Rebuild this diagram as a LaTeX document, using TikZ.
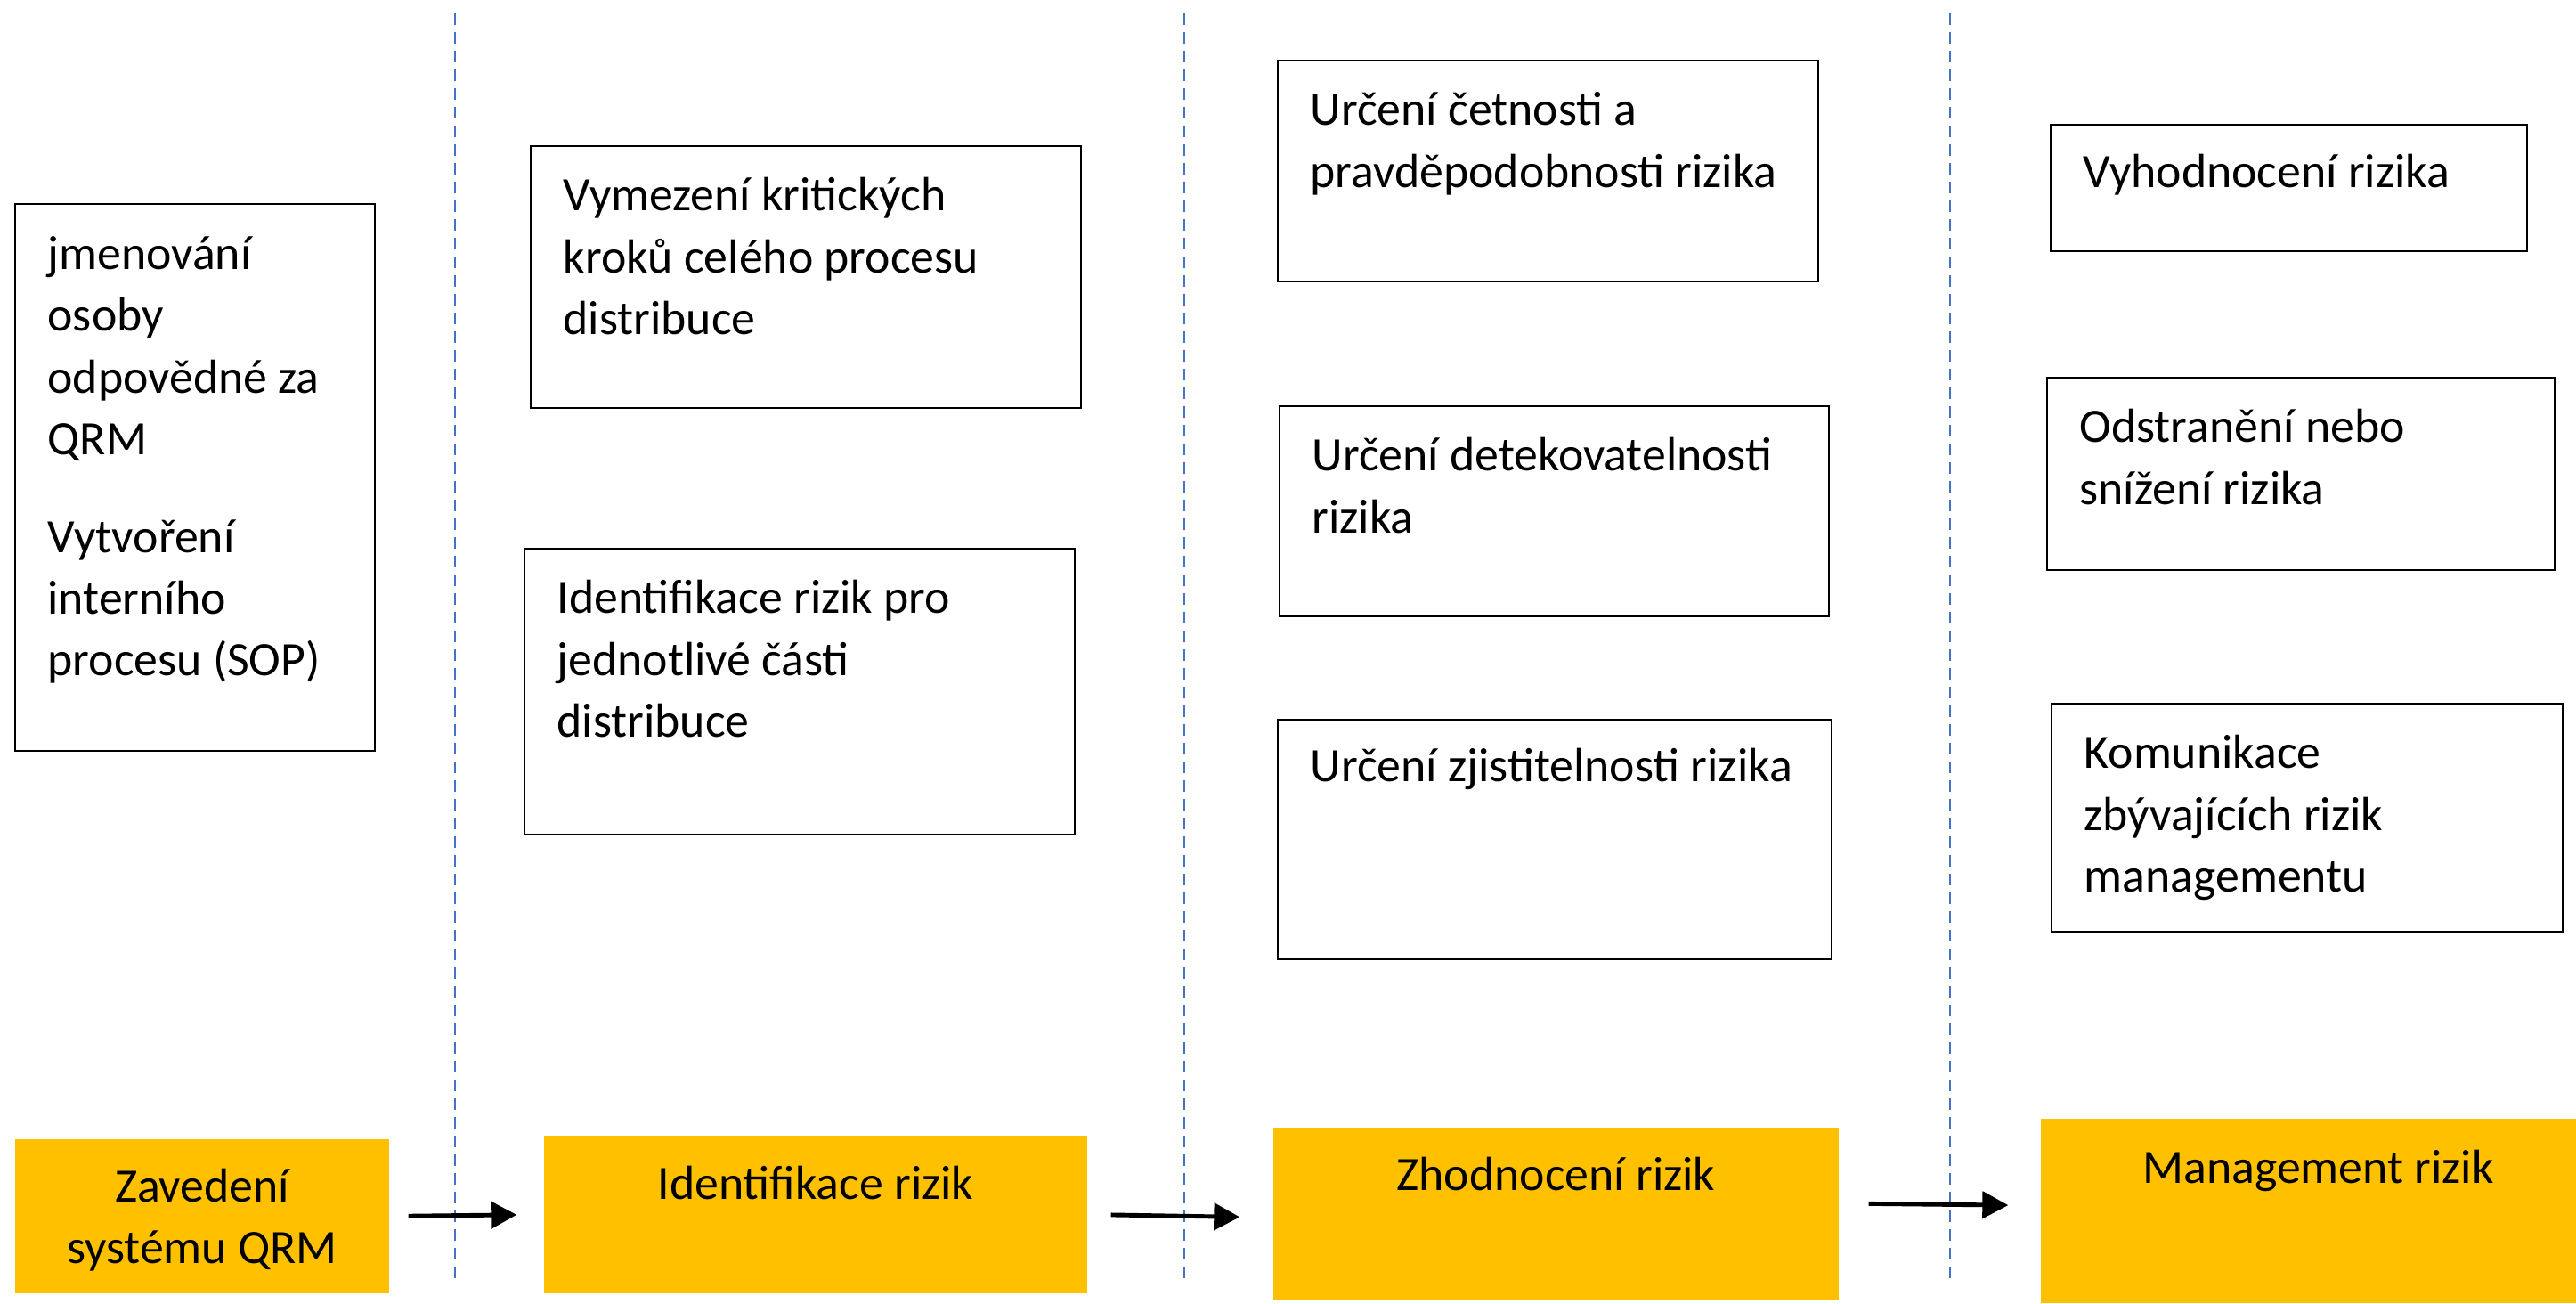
\documentclass[tikz,border=0pt]{standalone}
\usepackage{fontspec}
\setmainfont{Carlito}
\usetikzlibrary{calc,arrows.meta}
\definecolor{stepyellow}{HTML}{FFC000}
\definecolor{sepblue}{HTML}{4472C4}

\begin{document}
\begin{tikzpicture}[
    box/.style={draw,line width=0.6pt,inner sep=0pt},
    stepbox/.style={fill=stepyellow,inner sep=0pt},
    txt/.style={inner sep=0pt,align=left,font=\fontsize{15.3}{19.7}\selectfont,execute at begin node=\strut},
    flow/.style={-{Triangle[length=0.29cm,width=0.3cm]},line width=1.4pt},
    divider/.style={sepblue,line width=0.6pt,dash pattern=on 0.13cm off 0.08cm}]
    \useasboundingbox (0,0) rectangle (28.93,14.63);

    % column dividers
    \draw[divider] (5.11,14.48) -- (5.11,0.24);
    \draw[divider] (13.30,14.48) -- (13.30,0.24);
    \draw[divider] (21.90,14.48) -- (21.90,0.24);

    % first column
    \node[box,minimum width=4.04cm,minimum height=6.14cm] (qrmbox) at (2.19,9.27) {};
    \node[txt,anchor=north west] (qrmtxt) at ($(qrmbox.north west)+(0.37,-0.37)$)
      {jmenování\\ osoby\\ odpovědné za\\ QRM\\[11.5pt] Vytvoření\\ interního\\ procesu (SOP)};

    % second column
    \node[box,minimum width=6.18cm,minimum height=2.94cm] (vymez) at (9.05,11.52) {};
    \node[txt,anchor=north west] (vymeztxt) at ($(vymez.north west)+(0.37,-0.36)$)
      {Vymezení kritických\\ kroků celého procesu\\ distribuce};
    \node[box,minimum width=6.18cm,minimum height=3.21cm] (idpart) at (8.98,6.865) {};
    \node[txt,anchor=north west] (idparttxt) at ($(idpart.north west)+(0.37,-0.36)$)
      {Identifikace rizik pro\\ jednotlivé části\\ distribuce};

    % third column
    \node[box,minimum width=6.07cm,minimum height=2.48cm] (cetn) at (17.385,12.71) {};
    \node[txt,anchor=north west] (cetntxt) at ($(cetn.north west)+(0.37,-0.36)$)
      {Určení četnosti a\\ pravděpodobnosti rizika};
    \node[box,minimum width=6.17cm,minimum height=2.36cm] (detek) at (17.455,8.89) {};
    \node[txt,anchor=north west] (detektxt) at ($(detek.north west)+(0.37,-0.36)$)
      {Určení detekovatelnosti\\ rizika};
    \node[box,minimum width=6.22cm,minimum height=2.69cm] (zjist) at (17.46,5.205) {};
    \node[txt,anchor=north west] (zjisttxt) at ($(zjist.north west)+(0.37,-0.21)$)
      {Určení zjistitelnosti rizika};

    % fourth column
    \node[box,minimum width=5.35cm,minimum height=1.42cm] (vyhod) at (25.705,12.52) {};
    \node[txt,anchor=north west] (vyhodtxt) at ($(vyhod.north west)+(0.37,-0.22)$)
      {Vyhodnocení rizika};
    \node[box,minimum width=5.70cm,minimum height=2.16cm] (odstr) at (25.84,9.31) {};
    \node[txt,anchor=north west] (odstrtxt) at ($(odstr.north west)+(0.37,-0.36)$)
      {Odstranění nebo\\ snížení rizika};
    \node[box,minimum width=5.74cm,minimum height=2.56cm] (komun) at (25.91,5.45) {};
    \node[txt,anchor=north west] (komuntxt) at ($(komun.north west)+(0.37,-0.36)$)
      {Komunikace\\ zbývajících rizik\\ managementu};

    % steps
    \node[stepbox,minimum width=4.20cm,minimum height=1.73cm] (zaved) at (2.27,0.975) {};
    \node[txt,align=center] (zavedtxt) at ($(zaved.center)+(0,-0.10)$) {Zavedení\\ systému QRM};
    \node[stepbox,minimum width=6.10cm,minimum height=1.77cm] (identif) at (9.16,0.995) {};
    \node[txt,anchor=north] (identiftxt) at ($(identif.north)+(0,-0.23)$) {Identifikace rizik};
    \node[stepbox,minimum width=6.35cm,minimum height=1.94cm] (zhodn) at (17.475,1.00) {};
    \node[txt,anchor=north] (zhodntxt) at ($(zhodn.north)+(0,-0.22)$) {Zhodnocení rizik};
    \node[stepbox,minimum width=6.01cm,minimum height=2.07cm] (manag) at (25.925,1.035) {};
    \node[txt,anchor=north] (managtxt) at ($(manag.north)+(0.11,-0.24)$) {Management rizik};

    \draw[flow,shorten <=0.21cm,shorten >=0.30cm] (zaved.east) -- (identif.west);
    \draw[flow,shorten <=0.26cm,shorten >=0.37cm] (identif.east) -- ([yshift=-0.04cm]zhodn.west);
    \draw[flow,shorten <=0.33cm,shorten >=0.36cm] ([yshift=0.12cm]zhodn.east) -- ([yshift=0.06cm]manag.west);
  \end{tikzpicture}
\end{document}
